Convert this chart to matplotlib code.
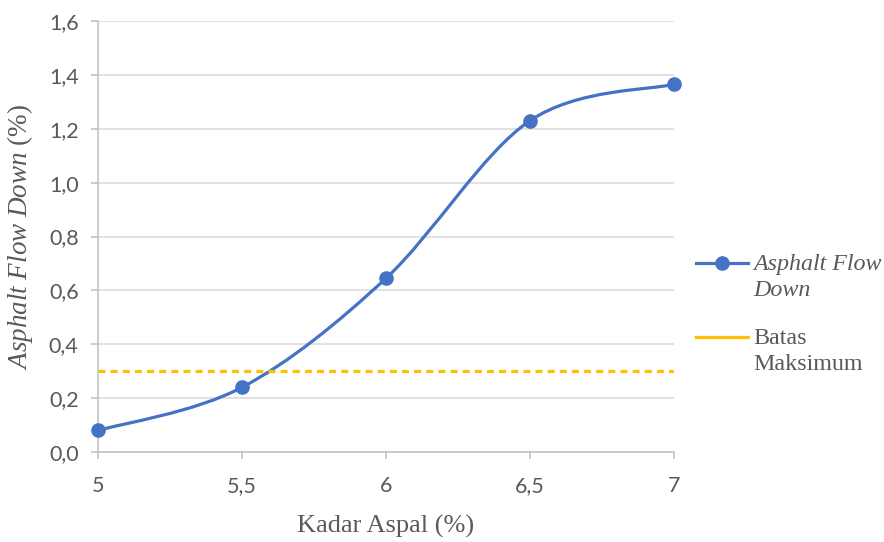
import matplotlib.pyplot as plt
from matplotlib.path import Path
from matplotlib.patches import PathPatch
from matplotlib.lines import Line2D
import numpy as np

kadar = [5, 5.5, 6, 6.5, 7]
flow_down = [0.08, 0.24, 0.645, 1.23, 1.365]
batas = [0.3, 0.3, 0.3, 0.3, 0.3]

blue = "#4472C4"
yellow = "#FFC000"
grey_text = "#595959"

plt.rcParams['mathtext.fontset'] = 'custom'
plt.rcParams['mathtext.rm'] = 'Liberation Serif'
plt.rcParams['mathtext.it'] = 'Liberation Serif:italic'

W, H = 884, 542
fig = plt.figure(figsize=(W / 100, H / 100), dpi=100)
ax = fig.add_axes([98 / W, 1 - 452 / H, 576 / W, 431 / H])


def smooth_path(xs, ys):
    # Excel-like smoothing: cubic bezier, catmull-rom control points
    pts = np.column_stack([xs, ys])
    verts = [pts[0]]
    codes = [Path.MOVETO]
    n = len(pts)
    for i in range(n - 1):
        p0 = pts[max(i - 1, 0)]
        p1 = pts[i]
        p2 = pts[i + 1]
        p3 = pts[min(i + 2, n - 1)]
        c1 = p1 + (p2 - p0) / 6
        c2 = p2 - (p3 - p1) / 6
        verts += [c1, c2, p2]
        codes += [Path.CURVE4] * 3
    return Path(verts, codes)


ax.add_patch(PathPatch(smooth_path(kadar, flow_down), fill=False,
                       edgecolor=blue, lw=2.3, zorder=3, capstyle='round'))
ax.plot(kadar, flow_down, 'o', color=blue, markersize=9.5, zorder=4, clip_on=False)
ax.plot(kadar, batas, color=yellow, lw=2.3, ls=(0, (2.2, 1.6)), zorder=3)

ax.set_xlim(5, 7)
ax.set_ylim(0, 1.6)
ax.set_xticks([5, 5.5, 6, 6.5, 7])
ax.set_xticklabels(["5", "5,5", "6", "6,5", "7"])
ax.set_yticks(np.arange(0, 1.61, 0.2))
ax.set_yticklabels(["0,0", "0,2", "0,4", "0,6", "0,8", "1,0", "1,2", "1,4", "1,6"])
ax.grid(axis='y', color="#D9D9D9", lw=1.1)
ax.set_axisbelow(True)
for s in ['top', 'right']:
    ax.spines[s].set_visible(False)
for s in ['left', 'bottom']:
    ax.spines[s].set_color("#BFBFBF")
    ax.spines[s].set_linewidth(1.1)
ax.tick_params(axis='both', color="#BFBFBF", length=5, width=1.1,
               labelcolor=grey_text, labelsize=15.5)
ax.tick_params(axis='x', pad=12)
ax.tick_params(axis='y', pad=9)
for lab in ax.get_xticklabels() + ax.get_yticklabels():
    lab.set_fontfamily('Lato')

ax.set_xlabel("Kadar Aspal (%)", family='Liberation Serif', fontsize=19,
              color=grey_text, labelpad=14)
ax.set_ylabel(r"$\mathit{Asphalt\ Flow\ Down}$ (%)", family='Liberation Serif',
              fontsize=19.5, color=grey_text, labelpad=10)

# legend drawn by hand so the key lines up with the first text line (Excel style)
legend_items = [("Asphalt Flow\nDown", blue, 'o', 'italic', 263),
                ("Batas\nMaksimum", yellow, None, 'normal', 337)]
for label, col, mk, style, py in legend_items:
    yf = 1 - py / H
    fig.add_artist(Line2D([696 / W, 748 / W], [yf, yf], color=col, lw=2.3,
                          transform=fig.transFigure))
    if mk:
        fig.add_artist(Line2D([722 / W], [yf], color=col, marker=mk,
                              markersize=9.5, transform=fig.transFigure))
    first, second = label.split("\n")
    fig.text(753 / W, 1 - (py + 1) / H, first, va='center', ha='left',
             family='Liberation Serif', fontsize=17.3, style=style, color=grey_text)
    fig.text(753 / W, 1 - (py + 28) / H, second, va='center', ha='left',
             family='Liberation Serif', fontsize=17.3, style=style, color=grey_text)

fig.savefig("out.png", dpi=100)
